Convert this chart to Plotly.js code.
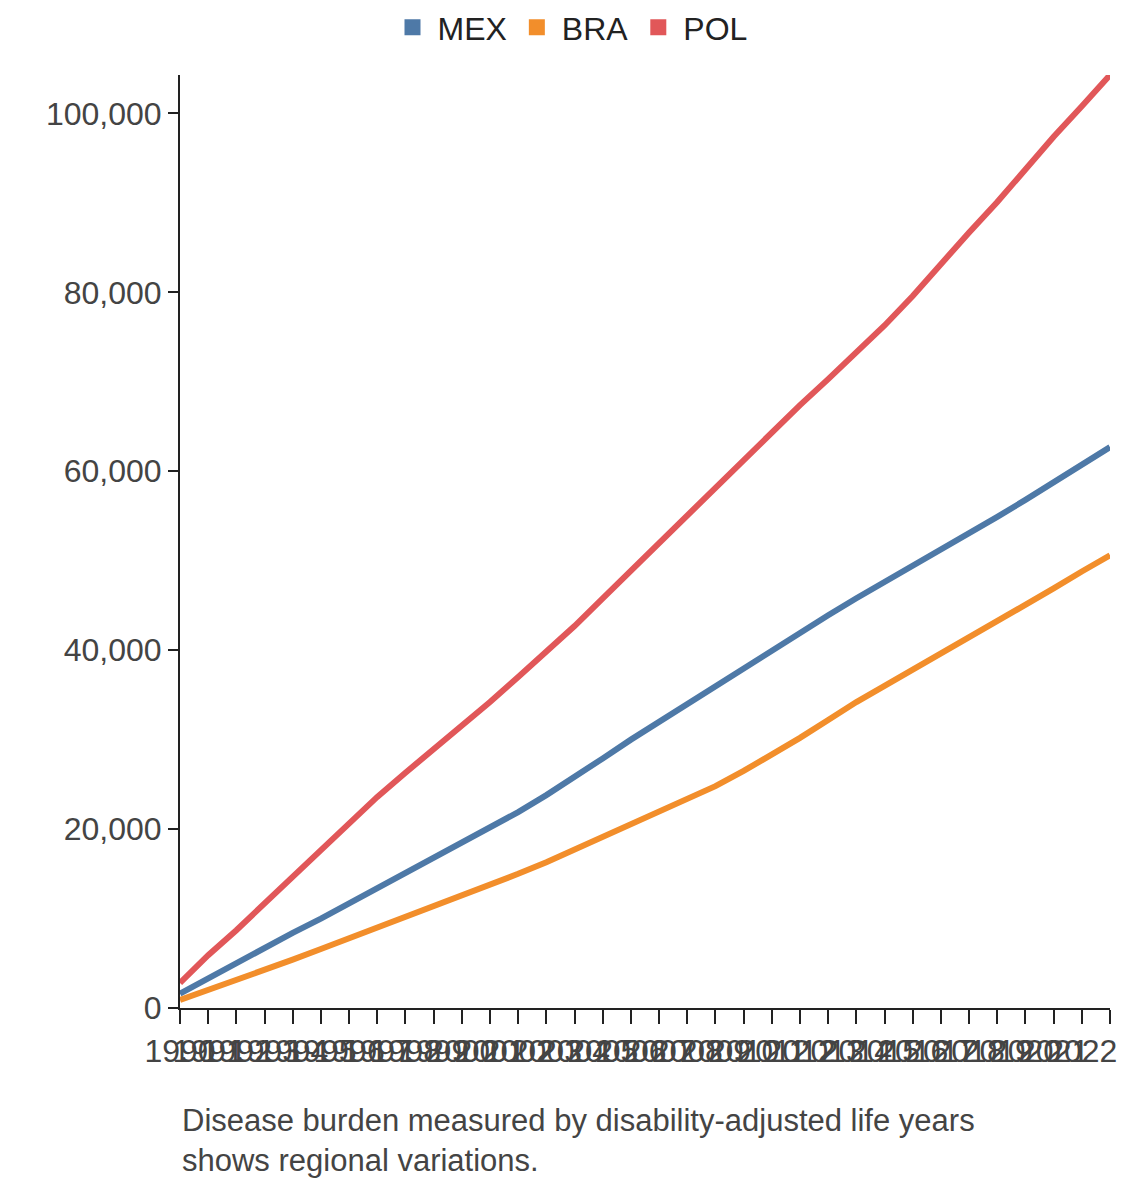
<!DOCTYPE html><html><head><meta charset="utf-8">
<script src="https://cdn.plot.ly/plotly-3.0.1.min.js"></script>
<style>body{margin:0}</style></head><body><div id="c" style="width:1140px;height:1182px"></div>
<script>
const years=[];for(let y=1990;y<=2023;y++)years.push(y);
const MEX=[1600,3300,5000,6800,8400,10000,11700,13400,15100,16800,18500,20200,21900,23800,25800,27900,30000,32000,34000,36000,38000,40000,42000,43900,45800,47600,49400,51300,53100,54900,56800,58800,60800,62700];
const BRA=[900,2000,3100,4200,5400,6600,7800,9000,10200,11400,12600,13700,15000,16300,17700,19100,20500,21900,23300,24800,26500,28300,30200,32200,34200,36000,37800,39600,41400,43200,45000,46900,48800,50600];
const POL=[2800,5900,8700,11700,14500,17600,20700,23600,26300,28900,31500,34200,37000,39800,42700,45800,48900,52000,54900,58000,61200,64300,67400,70300,73200,76300,79600,83200,86700,90100,93800,97400,100800,104300];
const series=[['MEX',MEX,'#4e79a7'],['BRA',BRA,'#f28e2b'],['POL',POL,'#e15759']];
const traces=[];
series.forEach(([n,y,c])=>traces.push({x:years,y:y,name:n,type:'scatter',mode:'lines',line:{color:c,width:6},showlegend:false,cliponaxis:false}));
series.forEach(([n,y,c])=>traces.push({x:[null],y:[null],name:n,type:'scatter',mode:'markers',marker:{symbol:'square',size:24,color:c},showlegend:true}));
Plotly.newPlot('c',traces,{
 width:1140,height:1182,margin:{l:180,r:30,t:75,b:174},
 paper_bgcolor:'#fff',plot_bgcolor:'#fff',
 font:{family:'Arial, Liberation Sans, sans-serif',size:32,color:'#444'},
 showlegend:true,legend:{orientation:'h',x:0.5,xanchor:'center',xref:'container',y:1,yref:'container',yanchor:'top',font:{size:32,color:'#222'},itemwidth:40},
 xaxis:{range:[1990,2023],tickmode:'array',tickvals:years,ticktext:years.map(String),tickangle:0,showgrid:false,zeroline:false,showline:true,linecolor:'#222',linewidth:2,ticks:'outside',ticklen:14,tickwidth:2,tickcolor:'#222',tickfont:{size:32,color:'#444'}},
 yaxis:{range:[0,104300],tickvals:[0,20000,40000,60000,80000,100000],tickformat:',',showgrid:false,zeroline:false,showline:true,linecolor:'#222',linewidth:2,ticks:'outside',ticklen:10,tickwidth:2,tickcolor:'#222'},
 annotations:[{xref:'paper',yref:'paper',x:0,y:-0.1,xanchor:'left',yanchor:'top',align:'left',showarrow:false,text:'Disease burden measured by disability-adjusted life years<br>shows regional variations.',font:{size:31,color:'#444'}}]
},{displayModeBar:false});
</script></body></html>
